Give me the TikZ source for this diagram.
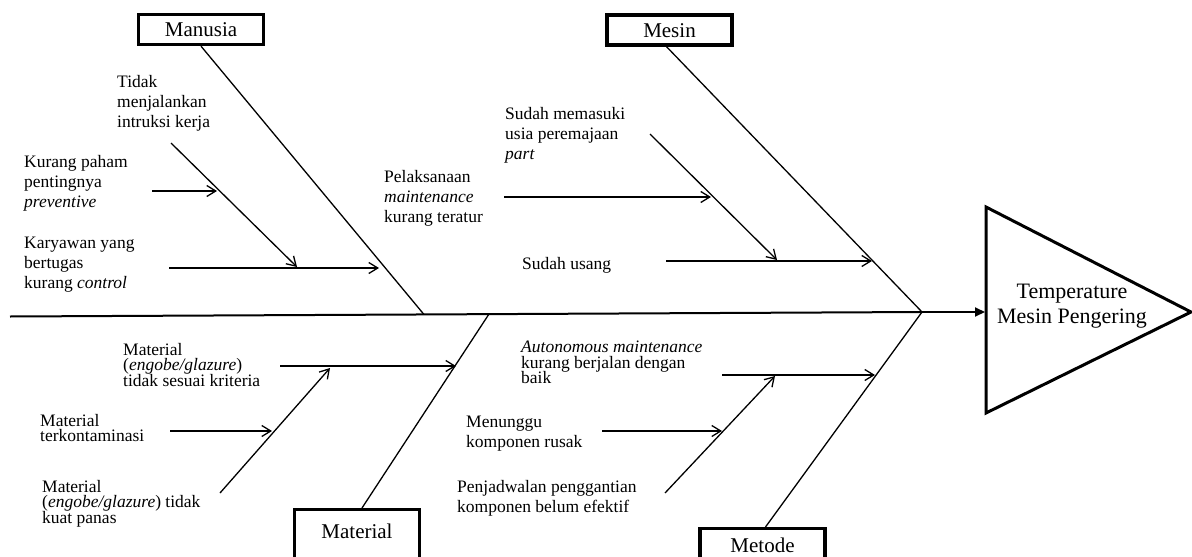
\documentclass[tikz,border=0pt]{standalone}
\usepackage{fontspec}
\setmainfont{Liberation Serif}
\usetikzlibrary{arrows.meta}
\begin{document}
\setlength{\lineskiplimit}{-20pt}
\begin{tikzpicture}[x=1pt,y=-1pt,
  spine/.style={line width=2pt},
  spinearrow/.style={line width=2pt,-{Triangle[length=10pt,width=9pt]}},
  bone/.style={line width=1.3pt},
  cause/.style={line width=1.3pt,-{Straight Barb[length=9pt,width=11pt]}},
  catbox/.style={draw,line width=3.3pt,minimum width=125pt,inner xsep=0pt,
    text height=14pt,text depth=0pt,inner ysep=8pt,
    font=\fontsize{21}{25}\selectfont},
  catboxlow/.style={catbox,anchor=north,text depth=40pt},
  lbl/.style={anchor=north west,inner sep=0pt,align=left,
    font=\fontsize{17.5}{20}\selectfont},
  lbltight/.style={lbl,font=\fontsize{17.5}{15.5}\selectfont},
  effectlbl/.style={anchor=north,inner sep=0pt,align=center,
    font=\fontsize{22}{25}\selectfont},
]
\useasboundingbox (0,0) rectangle (1192,557);
\clip (0,0) rectangle (1192,557);
\fill[white] (0,0) rectangle (1192,557);

% category boxes
\node[catbox] (manusia) at (201,29.5) {Manusia};
\node[catbox] (mesin) at (669.5,30) {Mesin};
\node[catboxlow,inner ysep=15pt] (material) at (357,508) {Material};
\node[catboxlow,inner ysep=9.5pt] (metode) at (762.5,527) {Metode};

% effect head
\draw[line width=3pt] (986,207) -- (986,413) -- (1191,312) -- cycle;
\node[effectlbl] (effecttext) at (1072,283.5) {Temperature\\Mesin Pengering};

% spine
\coordinate (tail) at (10,316.5);
\coordinate (head) at (922,312);
\coordinate (effect) at (985,312);
\draw[spine] (tail) -- (head);
\draw[spinearrow] (head) -- (effect);

% main bones
\coordinate (mbone) at (424,314.5);
\coordinate (abone) at (489,314);
\draw[bone] (manusia.south) -- (mbone);
\draw[bone] ([xshift=-3pt]mesin.south) -- (head);
\draw[bone] ([xshift=5pt]material.north) -- (abone);
\draw[bone] ([xshift=3pt]metode.north) -- (head);

% Manusia causes
\coordinate (m1s) at (169,268); \coordinate (m1e) at (379,268);
\coordinate (m2s) at (171,143); \coordinate (m2e) at (297,267);
\coordinate (m3s) at (152,191); \coordinate (m3e) at (217,191);
\draw[cause] (m1s) -- (m1e);
\draw[cause] (m2s) -- (m2e);
\draw[cause] (m3s) -- (m3e);
\node[lbl] (tidak) at (117,75) {Tidak\\menjalankan\\intruksi kerja};
\node[lbl] (kurangpaham) at (24,155) {Kurang paham\\pentingnya\\\textit{preventive}};
\node[lbl] (karyawan) at (24,237) {Karyawan yang\\bertugas\\kurang \textit{control}};

% Mesin causes
\coordinate (s1s) at (666,261); \coordinate (s1e) at (872,261);
\coordinate (s2s) at (650,134); \coordinate (s2e) at (777,260);
\coordinate (s3s) at (504,197); \coordinate (s3e) at (711,197);
\draw[cause] (s1s) -- (s1e);
\draw[cause] (s2s) -- (s2e);
\draw[cause] (s3s) -- (s3e);
\node[lbl] (pelaksanaan) at (384,170) {Pelaksanaan\\\textit{maintenance}\\kurang teratur};
\node[lbl] (sudahmasuk) at (505,107) {Sudah memasuki\\usia peremajaan\\\textit{part}};
\node[lbl] (sudahusang) at (522,257) {Sudah usang};

% Material causes
\coordinate (a1s) at (280,366); \coordinate (a1e) at (456,366);
\coordinate (a2s) at (220,493); \coordinate (a2e) at (330,368);
\coordinate (a3s) at (170,431); \coordinate (a3e) at (272,431);
\draw[cause] (a1s) -- (a1e);
\draw[cause] (a2s) -- (a2e);
\draw[cause] (a3s) -- (a3e);
\node[lbltight] (kriteria) at (123,343) {Material\\(\textit{engobe/glazure})\\tidak sesuai kriteria};
\node[lbltight] (kontaminasi) at (40,414) {Material\\terkontaminasi};
\node[lbltight] (panas) at (42,480) {Material\\(\textit{engobe/glazure}) tidak\\kuat panas};

% Metode causes
\coordinate (d1s) at (722,375); \coordinate (d1e) at (875,375);
\coordinate (d2s) at (665,493); \coordinate (d2e) at (775,376);
\coordinate (d3s) at (602,431); \coordinate (d3e) at (722,431);
\draw[cause] (d1s) -- (d1e);
\draw[cause] (d2s) -- (d2e);
\draw[cause] (d3s) -- (d3e);
\node[lbltight] (autonomous) at (521,341) {\textit{Autonomous maintenance}\\kurang berjalan dengan\\baik};
\node[lbl] (menunggu) at (466,416) {Menunggu\\komponen rusak};
\node[lbl] (penjadwalan) at (457,480) {Penjadwalan penggantian\\komponen belum efektif};
\end{tikzpicture}
\end{document}
